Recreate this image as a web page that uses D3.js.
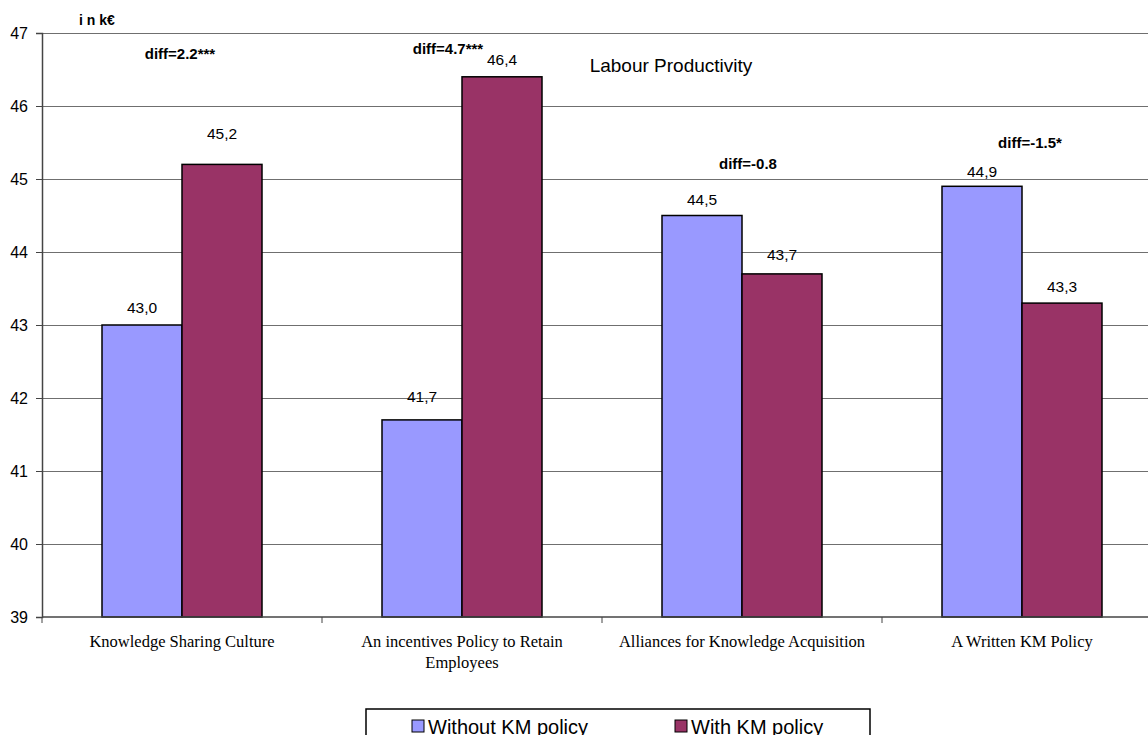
<!DOCTYPE html>
<html>
<head>
<meta charset="utf-8">
<script src="https://cdn.jsdelivr.net/npm/d3@7/dist/d3.min.js"></script>
<style>
  html, body { margin: 0; padding: 0; background: #fff; }
  svg { display: block; }
</style>
</head>
<body>
<svg id="chart" width="1148" height="735"></svg>
<script>
// Labour productivity (in k€) by knowledge-management practice
const categories = [
  ["Knowledge Sharing Culture"],
  ["An incentives Policy to Retain", "Employees"],
  ["Alliances for Knowledge Acquisition"],
  ["A Written KM Policy"]
];
const seriesNames = ["Without KM policy", "With KM policy"];
const withoutKM = [43.0, 41.7, 44.5, 44.9];
const withKM = [45.2, 46.4, 43.7, 43.3];
const diffLabels = ["diff=2.2***", "diff=4.7***", "diff=-0.8", "diff=-1.5*"];
// vertical anchor of each diff note, in axis units
const diffAnchors = [46.65, 46.71, 45.14, 45.42];
const yTicks = [39, 40, 41, 42, 43, 44, 45, 46, 47];
const colors = ["#9999FF", "#993366"];

const svg = d3.select("#chart");
const plotLeft = 42, plotTop = 33, plotBottom = 617, plotRight = 1162;
const sans = "Arial, 'Liberation Sans', sans-serif";

const catKeys = categories.map((c, i) => i);
const x0 = d3.scaleBand().domain(catKeys).range([plotLeft, plotRight]).padding(0);
const x1 = d3.scaleBand().domain(seriesNames)
  .range([x0.bandwidth() * 60 / 280, x0.bandwidth() * 220 / 280]).padding(0);
const y = d3.scaleLinear().domain([39, 47]).range([plotBottom, plotTop]);

const fmt = v => d3.format(".1f")(v).replace(".", ",");

// hand-placed offsets of the annotations (pixels)
const valueLift = [[12, 25], [18, 12], [10.5, 14], [9, 11]];
const diffShiftX = [-2, -14, 6, 8];

// gridlines
svg.append("g")
  .selectAll("line").data(yTicks.slice(1)).join("line")
  .attr("x1", plotLeft).attr("x2", 1148)
  .attr("y1", d => y(d)).attr("y2", d => y(d))
  .attr("stroke", "#6f6f6f").attr("stroke-width", 1).attr("shape-rendering", "crispEdges");

// y axis
const yAxis = svg.append("g").attr("transform", `translate(${plotLeft},0)`)
  .call(d3.axisLeft(y).tickValues(yTicks).tickSize(6).tickPadding(8).tickFormat(d3.format("d")));
yAxis.select(".domain").attr("stroke", "#444").attr("stroke-width", 1.5);
yAxis.selectAll(".tick line").attr("stroke", "#444");
yAxis.selectAll("text").attr("font-family", sans)
  .attr("font-size", 16).attr("fill", "#000");

// bars
const groups = svg.append("g").selectAll("g").data(catKeys).join("g")
  .attr("transform", d => `translate(${x0(d)},0)`);
const rows = d => [
  { key: seriesNames[0], value: withoutKM[d], color: colors[0], lift: valueLift[d][0] },
  { key: seriesNames[1], value: withKM[d], color: colors[1], lift: valueLift[d][1] }
];
groups.selectAll("rect").data(rows).join("rect")
  .attr("x", d => x1(d.key)).attr("width", x1.bandwidth())
  .attr("y", d => y(d.value)).attr("height", d => y(39) - y(d.value))
  .attr("fill", d => d.color).attr("stroke", "#000").attr("stroke-width", 1.5);

groups.selectAll("text.val").data(rows).join("text").attr("class", "val")
  .attr("x", d => x1(d.key) + x1.bandwidth() / 2)
  .attr("y", d => y(d.value) - d.lift)
  .attr("text-anchor", "middle")
  .attr("font-family", sans).attr("font-size", 15.5)
  .text(d => fmt(d.value));

// x axis
const xAxis = svg.append("g").attr("transform", `translate(0,${plotBottom})`);
xAxis.append("line").attr("x1", plotLeft).attr("x2", 1148).attr("y1", 0).attr("y2", 0)
  .attr("stroke", "#444").attr("stroke-width", 1.5);
xAxis.selectAll("line.tick").data(d3.range(catKeys.length + 1)).join("line").attr("class", "tick")
  .attr("x1", i => plotLeft + i * x0.bandwidth()).attr("x2", i => plotLeft + i * x0.bandwidth())
  .attr("y1", 0).attr("y2", 6).attr("stroke", "#444");
xAxis.selectAll("text").data(catKeys).join("text")
  .attr("x", d => x0(d) + x0.bandwidth() / 2)
  .attr("y", 30)
  .attr("text-anchor", "middle")
  .attr("font-family", "'Times New Roman', 'Liberation Serif', serif").attr("font-size", 16.5)
  .each(function (d) {
    const t = d3.select(this);
    categories[d].forEach((line, i) => {
      t.append("tspan").attr("x", x0(d) + x0.bandwidth() / 2).attr("dy", i ? 21 : 0).text(line);
    });
  });

// diff annotations
svg.append("g").selectAll("text").data(catKeys).join("text")
  .attr("x", d => x0(d) + x0.bandwidth() / 2 + diffShiftX[d])
  .attr("y", d => y(diffAnchors[d]))
  .attr("text-anchor", "middle")
  .attr("font-family", sans).attr("font-size", 15)
  .attr("font-weight", "bold")
  .text(d => diffLabels[d]);

// unit and title
svg.append("text").attr("x", 97).attr("y", 25).attr("text-anchor", "middle")
  .attr("font-family", sans).attr("font-size", 14)
  .attr("font-weight", "bold").text("i n k€");
svg.append("text").attr("x", 671).attr("y", 72).attr("text-anchor", "middle")
  .attr("font-family", sans).attr("font-size", 19)
  .text("Labour Productivity");

// legend (its lower part runs past the bottom edge)
const legend = svg.append("g");
legend.append("rect").attr("x", 366).attr("y", 709).attr("width", 504).attr("height", 40)
  .attr("fill", "#fff").attr("stroke", "#000").attr("stroke-width", 1.5);
const legendX = [412, 675];
const items = legend.selectAll("g").data(seriesNames).join("g")
  .attr("transform", (d, i) => `translate(${legendX[i]},720)`);
items.append("rect").attr("width", 12).attr("height", 12)
  .attr("fill", (d, i) => colors[i]).attr("stroke", "#000").attr("stroke-width", 1);
items.append("text").attr("x", 16).attr("y", 14)
  .attr("font-family", sans).attr("font-size", 20)
  .text(d => d);
</script>
</body>
</html>
